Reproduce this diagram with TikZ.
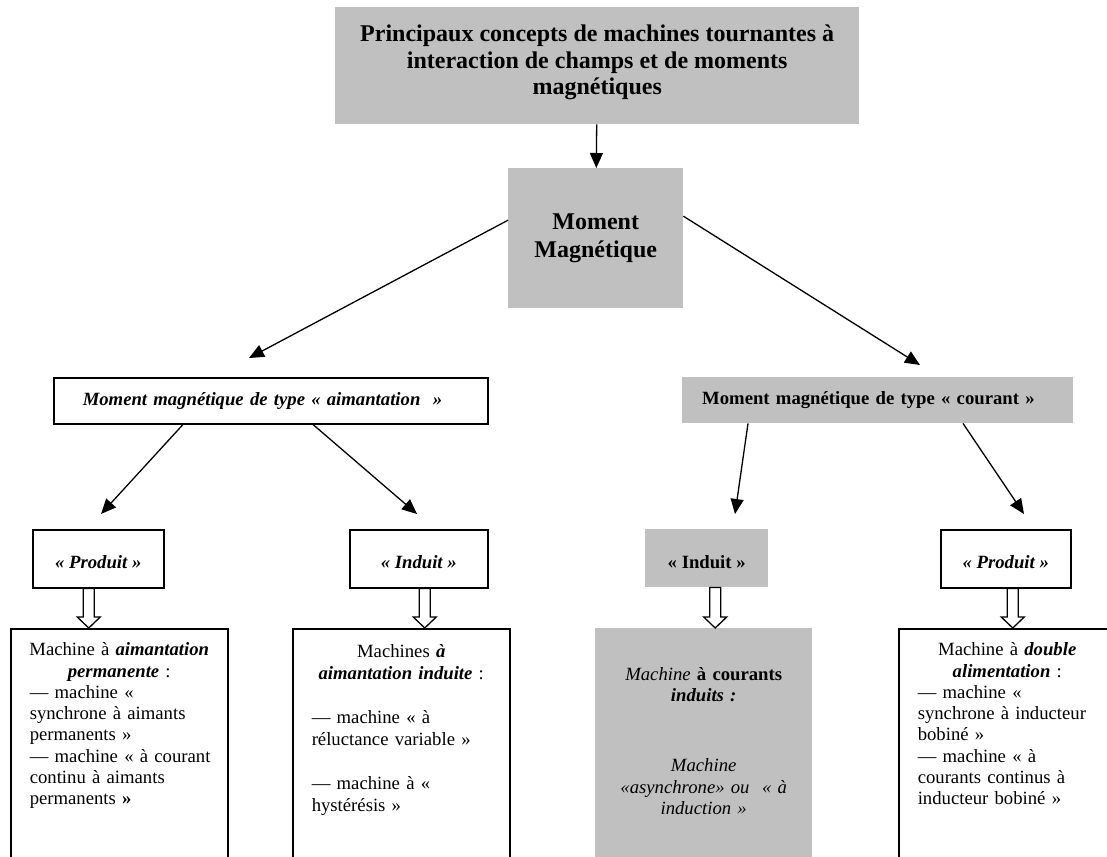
\documentclass[tikz,border=0pt]{standalone}
\usepackage{fontspec}
\setmainfont{Liberation Serif}
\usetikzlibrary{arrows.meta,calc}
\definecolor{boxgray}{RGB}{192,192,192}
\newcommand\hollowdown[3]{%
  \draw[harrow] let \p1=(#1.south), \p2=(#2.north) in
   (\x1+#3pt-5.5pt,\y1) -- (\x1+#3pt-5.5pt,\y2+11pt) -- (\x1+#3pt-11.5pt,\y2+11pt)
   -- (\x1+#3pt,\y2) -- (\x1+#3pt+11.5pt,\y2+11pt) -- (\x1+#3pt+5.5pt,\y2+11pt)
   -- (\x1+#3pt+5.5pt,\y1) -- cycle;}
\begin{document}
\begin{tikzpicture}[x=1pt,y=-1pt,
  grayfill/.style={fill=boxgray,draw=none},
  framed/.style={draw=black,line width=1.5pt,fill=white},
  arr/.style={line width=1.3pt,-{Triangle[length=15pt,width=13pt]}},
  harrow/.style={draw=black,line width=1.3pt,fill=white,line join=miter},
  bodyfont/.style={font=\fontsize{18.7}{21.3}\selectfont},
  bigfont/.style={font=\fontsize{24}{26.5}\selectfont\bfseries},
  bottombox/.style={anchor=north west,text width=179pt,inner xsep=19pt,inner ysep=0pt,bodyfont},
  smallbox/.style={anchor=north west,minimum height=58pt,inner xsep=2pt,text height=20pt,text depth=0pt}
]
\path[use as bounding box] (0,0) rectangle (1107,856);
\clip (0,0) rectangle (1107,856);

% top level
\node[grayfill,bigfont,anchor=north west,minimum width=524pt,minimum height=117pt,align=center]
  (title) at (335,7) {Principaux concepts de machines tournantes à\\interaction de champs et de moments\\magnétiques\rule[-12pt]{0pt}{0pt}};
\node[grayfill,anchor=north west,minimum width=175pt,minimum height=140pt,align=center,
  font=\fontsize{24}{28}\selectfont\bfseries] (mm) at (508,168) {Moment\\Magnétique};

% second level
\node[framed,anchor=north west,minimum height=46pt,text width=376pt,inner xsep=29pt,align=left,
  font=\fontsize{18.7}{21.3}\selectfont\bfseries\itshape] (aim) at (53,377)
  {Moment magnétique de type « aimantation~ »};
\node[grayfill,anchor=north west,minimum height=46pt,text width=351pt,inner xsep=20pt,align=left,
  font=\fontsize{18.7}{21.3}\selectfont\bfseries] (cour) at (682,377)
  {Moment magnétique de type « courant »};

% third level
\node[framed,smallbox,minimum width=131pt,font=\fontsize{18.7}{21.3}\selectfont\bfseries\itshape]
  (prodL) at (32,529) {« Produit~»};
\node[framed,smallbox,minimum width=138pt,font=\fontsize{18.7}{21.3}\selectfont\bfseries\itshape]
  (indL) at (349,529) {« Induit »};
\node[grayfill,smallbox,minimum width=123pt,font=\fontsize{18.7}{21.3}\selectfont\bfseries]
  (indR) at (645,529) {« Induit »};
\node[framed,smallbox,minimum width=130pt,font=\fontsize{18.7}{21.3}\selectfont\bfseries\itshape]
  (prodR) at (940,529) {« Produit~»};

% bottom level
\node[framed,bottombox,align=left] (m1) at (10,628)
  {\centerline{\rule{0pt}{27pt}Machine à \textbf{\textit{aimantation}}}
   \centerline{\textbf{\textit{permanente}} :}\par
   \mbox{— machine «}\\
   \mbox{synchrone à aimants}\\
   \mbox{permanents »}\\
   \mbox{— machine « à courant}\\
   \mbox{continu à aimants}\\
   \mbox{permanents \textbf{»}}\rule[-90pt]{0pt}{0pt}};
\node[framed,bottombox,align=left] (m2) at (292,628)
  {\centerline{\rule{0pt}{29pt}Machines \textbf{\textit{à}}}
   \centerline{\textbf{\textit{aimantation induite}} :}\par
   \vspace{23.5pt}
   \mbox{— machine « à}\\
   \mbox{réluctance variable »}\\[23.5pt]
   \mbox{— machine à «}\\
   \mbox{hystérésis »}\rule[-90pt]{0pt}{0pt}};
\node[grayfill,bottombox,align=center] (m3) at (595,628)
  {\rule{0pt}{52pt}\textit{Machine} \textbf{à courants}\\
   \textbf{\textit{induits :}}\\[49pt]
   \textit{Machine}\\
   \textit{«asynchrone» ou~ « à}\\
   \textit{induction »}\rule[-90pt]{0pt}{0pt}};
\node[framed,bottombox,align=left] (m4) at (898,628)
  {\centerline{\rule{0pt}{27pt}Machine à \textbf{\textit{double}}}
   \centerline{\textbf{\textit{alimentation}} :}\par
   \mbox{— machine «}\\
   \mbox{synchrone à inducteur}\\
   \mbox{bobiné »}\\
   \mbox{— machine « à}\\
   \mbox{courants continus à}\\
   \mbox{inducteur bobiné »}\rule[-90pt]{0pt}{0pt}};

% connector end points
\coordinate (t1) at (249,358);
\coordinate (t2) at (920,365);
\coordinate (t3) at (101,514);
\coordinate (t4) at (417,514);
\coordinate (t5) at (735,514);
\coordinate (t6) at (1024,514);

\draw[arr] (title) -- (mm);
\draw[arr] ([yshift=18pt]mm.west) -- (t1);
\draw[arr] ([yshift=22pt]mm.east) -- (t2);
\draw[arr] ([xshift=130pt]aim.south west) -- (t3);
\draw[arr] ([xshift=260pt]aim.south west) -- (t4);
\draw[arr] ([xshift=66pt]cour.south west) -- (t5);
\draw[arr] ([xshift=281pt]cour.south west) -- (t6);

\hollowdown{prodL}{m1}{-9.5}
\hollowdown{indL}{m2}{6}
\hollowdown{indR}{m3}{8.5}
\hollowdown{prodR}{m4}{7}
\end{tikzpicture}
\end{document}
